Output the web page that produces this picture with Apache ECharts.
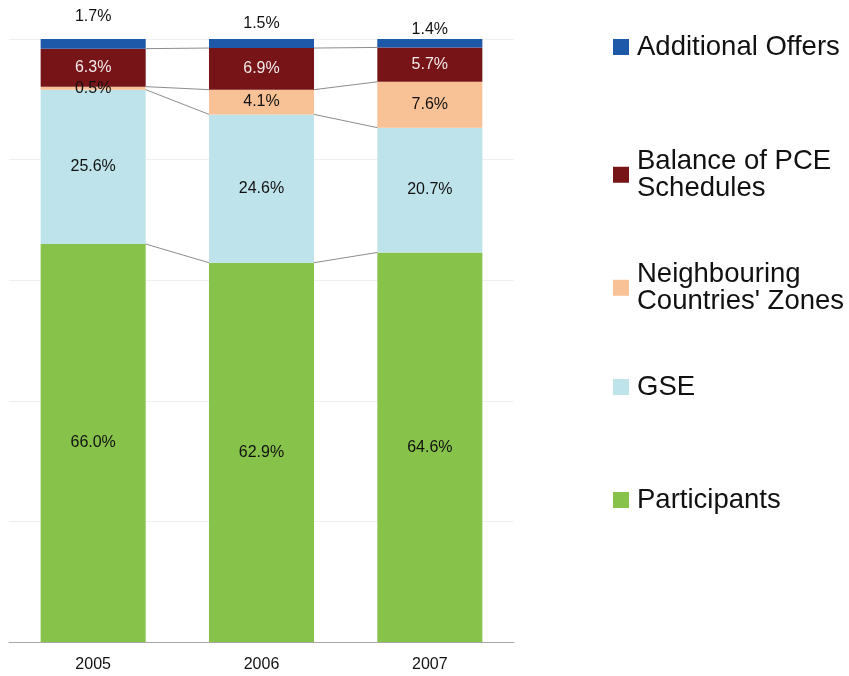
<!DOCTYPE html>
<html>
<head>
<meta charset="utf-8">
<script src="https://cdn.jsdelivr.net/npm/echarts@6/dist/echarts.min.js"></script>
<style>
  html, body { margin: 0; padding: 0; background: #fff; }
  #chart { width: 849px; height: 676px; }
</style>
</head>
<body>
<div id="chart"></div>
<script>
// 年（横軸のカテゴリ）
const years = ['2005', '2006', '2007'];

// 系列名（下から積み上げる順）
const seriesNames = [
  'Participants',
  'GSE',
  "Neighbouring Countries' Zones",
  'Balance of PCE Schedules',
  'Additional Offers'
];

// 各系列の値（%）
const participants = [66.0, 62.9, 64.6];
const gse = [25.6, 24.6, 20.7];
const neighbouring = [0.5, 4.1, 7.6];
const balancePCE = [6.3, 6.9, 5.7];
const additionalOffers = [1.7, 1.5, 1.4];

const values = [participants, gse, neighbouring, balancePCE, additionalOffers];

// 系列ごとの色
const colors = ['#87c34a', '#bfe3ea', '#f9c296', '#761418', '#1e58a8'];

// 棒の幅（カテゴリ幅に対する割合）
const barRatio = 0.624;

const chart = echarts.init(document.getElementById('chart'));

const fontFamily = '"Liberation Sans", Arial, sans-serif';

// 積み上げ棒の系列を作る
const barSeries = seriesNames.map((name, i) => {
  const isTop = i === seriesNames.length - 1;
  // 一番上の系列はラベルを棒の上に出す（年ごとに高さが違う）
  const topLift = [14, 7, 1];
  const data = values[i].map((v, j) => {
    if (!isTop) return v;
    return { value: v, label: { distance: topLift[j] } };
  });
  return {
    name: name,
    type: 'bar',
    stack: 'total',
    barWidth: (barRatio * 100) + '%',
    itemStyle: { color: colors[i] },
    label: {
      show: true,
      position: isTop ? 'top' : 'inside',
      formatter: p => p.value.toFixed(1) + '%',
      color: i === 3 ? '#f2eaea' : '#111',
      fontSize: 16,
      fontFamily: fontFamily
    },
    emphasis: { disabled: true },
    data: data
  };
});

// 区切り線用のデータ：[カテゴリ番号, この棒の境界値, 次の棒の境界値]
const lineData = [];
for (let s = 0; s < seriesNames.length - 1; s++) {
  for (let j = 0; j < years.length - 1; j++) {
    let cumA = 0;
    let cumB = 0;
    for (let k = 0; k <= s; k++) {
      cumA += values[k][j];
      cumB += values[k][j + 1];
    }
    lineData.push([j, cumA, cumB]);
  }
}

// 隣り合う棒の境界を結ぶ細い線
const connectorSeries = {
  type: 'custom',
  silent: true,
  z: 5,
  renderItem: (params, api) => {
    const j = api.value(0);
    const p1 = api.coord([j, api.value(1)]);
    const p2 = api.coord([j + 1, api.value(2)]);
    const half = api.size([1, 0])[0] * barRatio / 2;
    return {
      type: 'line',
      shape: { x1: p1[0] + half, y1: p1[1], x2: p2[0] - half, y2: p2[1] },
      style: { stroke: '#8c8c8c', lineWidth: 1 }
    };
  },
  data: lineData
};

// 凡例（項目ごとに縦位置を指定する）
const legendItems = [
  { name: 'Additional Offers', text: 'Additional Offers', top: 33 },
  { name: 'Balance of PCE Schedules', text: 'Balance of PCE\nSchedules', top: 147 },
  { name: "Neighbouring Countries' Zones", text: "Neighbouring\nCountries' Zones", top: 260 },
  { name: 'GSE', text: 'GSE', top: 373 },
  { name: 'Participants', text: 'Participants', top: 486 }
];

const legends = legendItems.map(item => ({
  data: [item.name],
  left: 613,
  top: item.top,
  padding: 0,
  icon: 'rect',
  itemWidth: 16,
  itemHeight: 16,
  selectedMode: false,
  formatter: () => item.text,
  textStyle: {
    fontSize: 27.5,
    lineHeight: 27.5,
    color: '#111',
    fontFamily: fontFamily,
    padding: [0, 0, 0, 3]
  }
}));

const option = {
  animation: false,
  backgroundColor: '#fff',
  legend: legends,
  grid: {
    left: 9,
    right: 335,
    top: 39,
    bottom: 34,
    containLabel: false
  },
  xAxis: {
    type: 'category',
    data: years,
    axisLine: { lineStyle: { color: '#a8a8a8' } },
    axisTick: { show: false },
    axisLabel: {
      color: '#111',
      fontSize: 16,
      fontFamily: fontFamily,
      margin: 15
    }
  },
  yAxis: {
    type: 'value',
    min: 0,
    max: 100,
    interval: 20,
    axisLabel: { show: false },
    axisLine: { show: false },
    axisTick: { show: false },
    splitLine: { lineStyle: { color: '#efefef' } }
  },
  series: [...barSeries, connectorSeries]
};

chart.setOption(option);
</script>
</body>
</html>
